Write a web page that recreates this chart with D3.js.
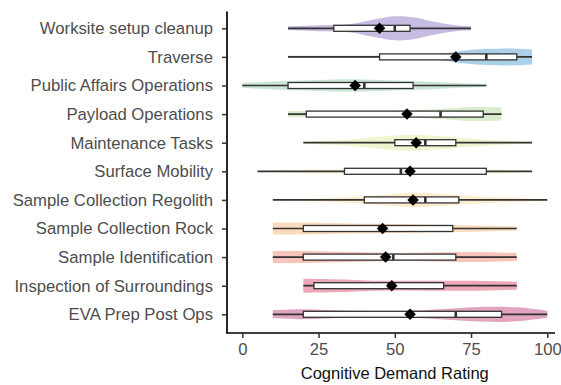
<!DOCTYPE html>
<html>
<head>
<meta charset="utf-8">
<script src="https://cdn.jsdelivr.net/npm/d3@7"></script>
<style>
  body { margin: 0; background: #fff; }
  svg { font-family: "Liberation Sans", Arial, sans-serif; }
</style>
</head>
<body>
<svg id="chart" width="561" height="385"></svg>
<script>
const WIDTH = 561;
const HEIGHT = 385;

const tasks = [
  'Worksite setup cleanup',
  'Traverse',
  'Public Affairs Operations',
  'Payload Operations',
  'Maintenance Tasks',
  'Surface Mobility',
  'Sample Collection Regolith',
  'Sample Collection Rock',
  'Sample Identification',
  'Inspection of Surroundings',
  'EVA Prep Post Ops',
];

const colors = [
  '#c6bbe0', '#acd0ea', '#c9e6d5', '#d8edcd', '#eff5d0', '#fcf6de',
  '#fdeccd', '#fbdbbd', '#f6c4b8', '#eea9b9', '#e1a5c1',
];

// five-number summaries: min, q1, median, q3, max
const mins    = [15, 15,  0, 15, 20,  5,  10, 10, 10, 20, 10];
const q1s     = [30, 45, 15, 21, 50, 33.5, 40, 20, 20, 23.5, 20];
const medians = [50, 80, 40, 65, 60, 52, 60, 45, 49.5, 48, 70];
const q3s     = [55, 90, 56, 79, 70, 80, 71, 69, 70, 66, 85];
const maxs    = [75, 95, 80, 85, 95, 95, 100, 90, 90, 90, 100];
const means   = [45, 70, 37, 54, 57, 55, 56, 46, 47, 49, 55];

// violin half-widths (density) at rating values, [rating, density]
const densities = [
  [[15, 2], [25, 3], [35, 4], [42, 8], [50, 12], [56, 11], [62, 7], [70, 3], [75, 2]],
  [[15, 1.2], [30, 1.2], [50, 1.5], [60, 2], [67, 4], [73, 6.5], [80, 8], [88, 8.5], [95, 7.5]],
  [[0, 2.5], [10, 4], [20, 5], [30, 6], [40, 6], [50, 5], [60, 4], [70, 2.5], [80, 1.5]],
  [[15, 3], [30, 3], [45, 3], [55, 3.5], [65, 5], [75, 7], [85, 6.5]],
  [[20, 1], [35, 3], [45, 6], [55, 8], [65, 6.5], [75, 4], [85, 2], [95, 1]],
  [[5, 1], [25, 2], [45, 3], [55, 3], [75, 2.5], [95, 1]],
  [[10, 1], [30, 2], [45, 5], [55, 7], [65, 6], [80, 3], [100, 1]],
  [[10, 6], [20, 6], [35, 5], [50, 4.5], [70, 3.5], [90, 2]],
  [[10, 6], [20, 6], [35, 5], [50, 4], [62, 4.5], [75, 5], [90, 4]],
  [[20, 7], [30, 6.5], [45, 5], [60, 5], [75, 5], [90, 4]],
  [[10, 4], [20, 5], [35, 3.5], [55, 3.5], [70, 6], [80, 7.5], [90, 7], [100, 3.5]],
];

const xTicks = [0, 25, 50, 75, 100];

const svg = d3.select('#chart');

const xScale = d3.scaleLinear()
  .domain([0, 100])
  .range([242.3, 547.3]);

const yScale = d3.scalePoint()
  .domain(tasks)
  .range([28.3, 314.3]);

const wScale = d3.scaleLinear()
  .domain([0, 1])
  .range([0, 1]);

const rows = tasks.map((task, i) => ({
  task: task,
  color: colors[i],
  min: mins[i],
  q1: q1s[i],
  median: medians[i],
  q3: q3s[i],
  max: maxs[i],
  mean: means[i],
  density: densities[i],
}));

const groups = svg.append('g')
  .selectAll('g')
  .data(rows)
  .enter()
  .append('g')
  .attr('transform', d => `translate(0, ${yScale(d.task)})`);

// violins
const violinArea = d3.area()
  .x(p => xScale(p[0]))
  .y0(p => -wScale(p[1]))
  .y1(p => wScale(p[1]))
  .curve(d3.curveCatmullRom);

groups.append('path')
  .attr('d', d => violinArea(d.density))
  .attr('fill', d => d.color)
  .attr('stroke', 'none');

// whiskers
groups.append('line')
  .attr('x1', d => xScale(d.min))
  .attr('x2', d => xScale(d.max))
  .attr('stroke', '#333')
  .attr('stroke-width', 1.7);

// boxes
groups.append('rect')
  .attr('x', d => xScale(d.q1))
  .attr('y', -3)
  .attr('width', d => xScale(d.q3) - xScale(d.q1))
  .attr('height', 6)
  .attr('fill', '#fff')
  .attr('stroke', '#333')
  .attr('stroke-width', 1.3);

// medians
groups.append('rect')
  .attr('x', d => xScale(d.median) - 1.3)
  .attr('y', -3)
  .attr('width', 2.6)
  .attr('height', 6)
  .attr('fill', '#333');

// means
groups.append('path')
  .attr('d', d3.symbol().type(d3.symbolDiamond2).size(85))
  .attr('transform', d => `translate(${xScale(d.mean)}, 0)`)
  .attr('fill', '#000');

// axes
const leftAxis = d3.axisLeft(yScale).tickSize(5).tickPadding(9);
const yAxisG = svg.append('g')
  .attr('transform', 'translate(227, 0)')
  .call(leftAxis);
yAxisG.select('.domain').attr('d', 'M0,11.5V333.5');

const bottomAxis = d3.axisBottom(xScale).tickValues(xTicks).tickSize(5).tickPadding(5);
const xAxisG = svg.append('g')
  .attr('transform', 'translate(0, 333)')
  .call(bottomAxis);
xAxisG.select('.domain').attr('d', 'M226.3,0H555');

[yAxisG, xAxisG].forEach(g => {
  g.select('.domain').attr('stroke', '#000').attr('stroke-width', 1.7);
  g.selectAll('.tick line').attr('stroke', '#333').attr('stroke-width', 1.5);
  g.selectAll('.tick text')
    .attr('fill', '#4d4d4d')
    .style('font-size', '16.7px')
    .style('font-family', '"Liberation Sans", Arial, sans-serif');
});

svg.append('text')
  .attr('x', xScale(50))
  .attr('y', 379)
  .attr('text-anchor', 'middle')
  .attr('fill', '#111')
  .style('font-size', '16.5px')
  .text('Cognitive Demand Rating');
</script>
</body>
</html>
